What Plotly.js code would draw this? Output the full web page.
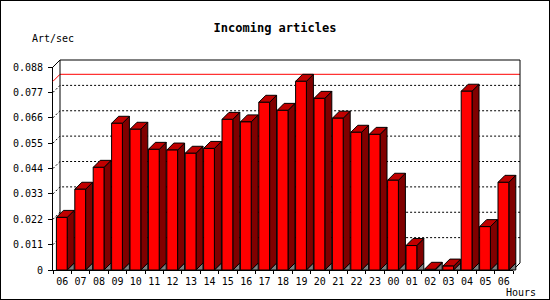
<!DOCTYPE html>
<html>
<head>
<meta charset="utf-8">
<script src="https://cdn.plot.ly/plotly-3.0.1.min.js"></script>
<style>
  html, body { margin: 0; padding: 0; background: #fff; }
  #wrap { position: relative; width: 550px; height: 300px; }
  #chart { position: absolute; left: 0; top: 0; width: 550px; height: 300px; }
  #frame { position: absolute; left: 0; top: 0; width: 550px; height: 300px; box-sizing: border-box; border: 1px solid #000; pointer-events: none; }
</style>
</head>
<body>
<div id="wrap"><div id="chart"></div><div id="frame"></div></div>
<script>
// ---- data ----
const hours = ['06','07','08','09','10','11','12','13','14','15','16','17','18','19','20','21','22','23','00','01','02','03','04','05','06'];
const rate = [0.0228,0.0350,0.0445,0.0636,0.0610,0.0523,0.0520,0.0506,0.0527,0.0653,0.0642,0.0727,0.0692,0.0818,0.0744,0.0658,0.0597,0.0588,0.0389,0.0106,0.0003,0.0017,0.0775,0.0188,0.0380];
const yTickVals = [0,0.011,0.022,0.033,0.044,0.055,0.066,0.077,0.088];
const yTickText = ['0','0.011','0.022','0.033','0.044','0.055','0.066','0.077','0.088'];
const yMax = 0.088;

(function () {
// ---- geometry (pixels) ----
const W = 550, H = 300;
const FX0 = 53, FX1 = 513, FY0 = 270, FY1 = 67;
const N = hours.length;
const SLOT = (FX1 - FX0) / N;
const YS = (FY0 - FY1) / yMax;
const DEPTH_X = 7, DEPTH_Y = 7;
const FACE_L = 3.4, FACE_W = 10.8;
const DX0 = 44, DX1 = 530, DY_TOP = 50, DY_BOT = 278;
const u = px => (px - FX0) / SLOT;
const v = py => (FY0 - py) / YS;
const dx = DEPTH_X / SLOT, dy = DEPTH_Y / YS;

const RED = '#ff0000', SIDE = '#800000', TOPC = '#c00000', GREY = '#808080';
const FONT = 'DejaVu Sans Mono';

function poly(list, color) {
  const xs = [], ys = [];
  list.forEach(p => { p.forEach(q => { xs.push(q[0]); ys.push(q[1]); }); xs.push(null); ys.push(null); });
  return { type: 'scatter', mode: 'lines', x: xs, y: ys, xaxis: 'x2', yaxis: 'y2', fill: 'toself', fillcolor: color,
           line: { color: '#000', width: 1 }, hoverinfo: 'skip', showlegend: false };
}
function lines(xs, ys, color, dash) {
  return { type: 'scatter', mode: 'lines', x: xs, y: ys, xaxis: 'x2', yaxis: 'y2',
           line: { color: color, width: 1, dash: dash || 'solid' }, hoverinfo: 'skip', showlegend: false };
}

const traces = [];
traces.push({ type: 'scatter', x: [null], y: [null], xaxis: 'x', yaxis: 'y', showlegend: false, hoverinfo: 'skip' });
traces.push({ type: 'scatter', x: [null], y: [null], xaxis: 'x3', yaxis: 'y', showlegend: false, hoverinfo: 'skip' });

yTickVals.slice(1, -1).forEach(t => {
  traces.push(lines([0, dx, N + dx], [t, t + dy, t + dy], '#000', '2px,2px'));
});
const mx = Math.max(...rate);
traces.push(lines([0, dx, N + dx], [mx, mx + dy, mx + dy], RED));
traces.push(lines([0, dx, N + dx, N + dx, N], [yMax, yMax + dy, yMax + dy, dy, 0], '#000'));
traces.push(lines([dx, dx], [yMax + dy, dy], '#000'));

const triP = [], sideP = [], topP = [], frontP = [];
rate.forEach((t, i) => {
  const fl = i + FACE_L / SLOT, fr = fl + FACE_W / SLOT;
  triP.push([[fr, 0], [fr + dx, dy], [fr + dx, 0], [fr, 0]]);
  sideP.push([[fr, 0], [fr, t], [fr + dx, t + dy], [fr + dx, dy], [fr, 0]]);
  topP.push([[fl, t], [fr, t], [fr + dx, t + dy], [fl + dx, t + dy], [fl, t]]);
  frontP.push([[fl, 0], [fr, 0], [fr, t], [fl, t], [fl, 0]]);
});
traces.push(poly(triP, GREY));
traces.push(poly(sideP, SIDE));
traces.push(poly(topP, TOPC));
traces.push(poly(frontP, RED));

const slotTicks = hours.map((_, i) => i).concat([N]);
const layout = {
  width: W, height: H,
  margin: { l: 0, r: 0, t: 0, b: 0 },
  paper_bgcolor: '#fff', plot_bgcolor: 'rgba(0,0,0,0)',
  showlegend: false,
  font: { family: FONT, size: 10, color: '#000' },
  title: { text: 'Incoming articles', x: 0.5, xanchor: 'center', y: 1 - 28 / H, yanchor: 'middle',
           font: { family: FONT, size: 12, weight: 'bold', color: '#000' } },
  xaxis: { domain: [FX0 / W, FX1 / W], range: [0, N], anchor: 'y', fixedrange: true,
           tickmode: 'array', tickvals: slotTicks, ticktext: slotTicks.map(() => ''),
           ticks: 'outside', ticklen: 3, tickcolor: '#000', showline: true, linecolor: '#000', linewidth: 1,
           showgrid: false, zeroline: false },
  xaxis3: { overlaying: 'x', anchor: 'y', range: [0, N], fixedrange: true,
            tickmode: 'array', tickvals: hours.map((_, i) => i + 0.5), ticktext: hours,
            ticks: '', ticklabelstandoff: 4, showline: false, showgrid: false, zeroline: false,
            tickfont: { family: FONT, size: 10, color: '#000' } },
  yaxis: { domain: [1 - FY0 / H, 1 - FY1 / H], range: [0, yMax], anchor: 'x', fixedrange: true,
           tickmode: 'array', tickvals: yTickVals, ticktext: yTickText,
           ticks: 'outside', ticklen: 4, tickcolor: '#000', showline: true, linecolor: '#000', linewidth: 1,
           ticklabelstandoff: 3,
           showgrid: false, zeroline: false, tickfont: { family: FONT, size: 10, color: '#000' } },
  xaxis2: { domain: [DX0 / W, DX1 / W], range: [u(DX0), u(DX1)], anchor: 'y2', visible: false, fixedrange: true },
  yaxis2: { domain: [1 - DY_BOT / H, 1 - DY_TOP / H], range: [v(DY_BOT), v(DY_TOP)], anchor: 'x2', visible: false, fixedrange: true },
  annotations: [
    { text: 'Art/sec', xref: 'paper', yref: 'paper', x: 30 / W, y: 1 - 38.5 / H, xanchor: 'left', yanchor: 'middle',
      showarrow: false, font: { family: FONT, size: 10, color: '#000' } },
    { text: 'Hours', xref: 'paper', yref: 'paper', x: 504 / W, y: 1 - 292 / H, xanchor: 'left', yanchor: 'middle',
      showarrow: false, font: { family: FONT, size: 10, color: '#000' } }
  ]
};

Plotly.newPlot('chart', traces, layout, { displayModeBar: false, staticPlot: true });
})();
</script>
</body>
</html>
